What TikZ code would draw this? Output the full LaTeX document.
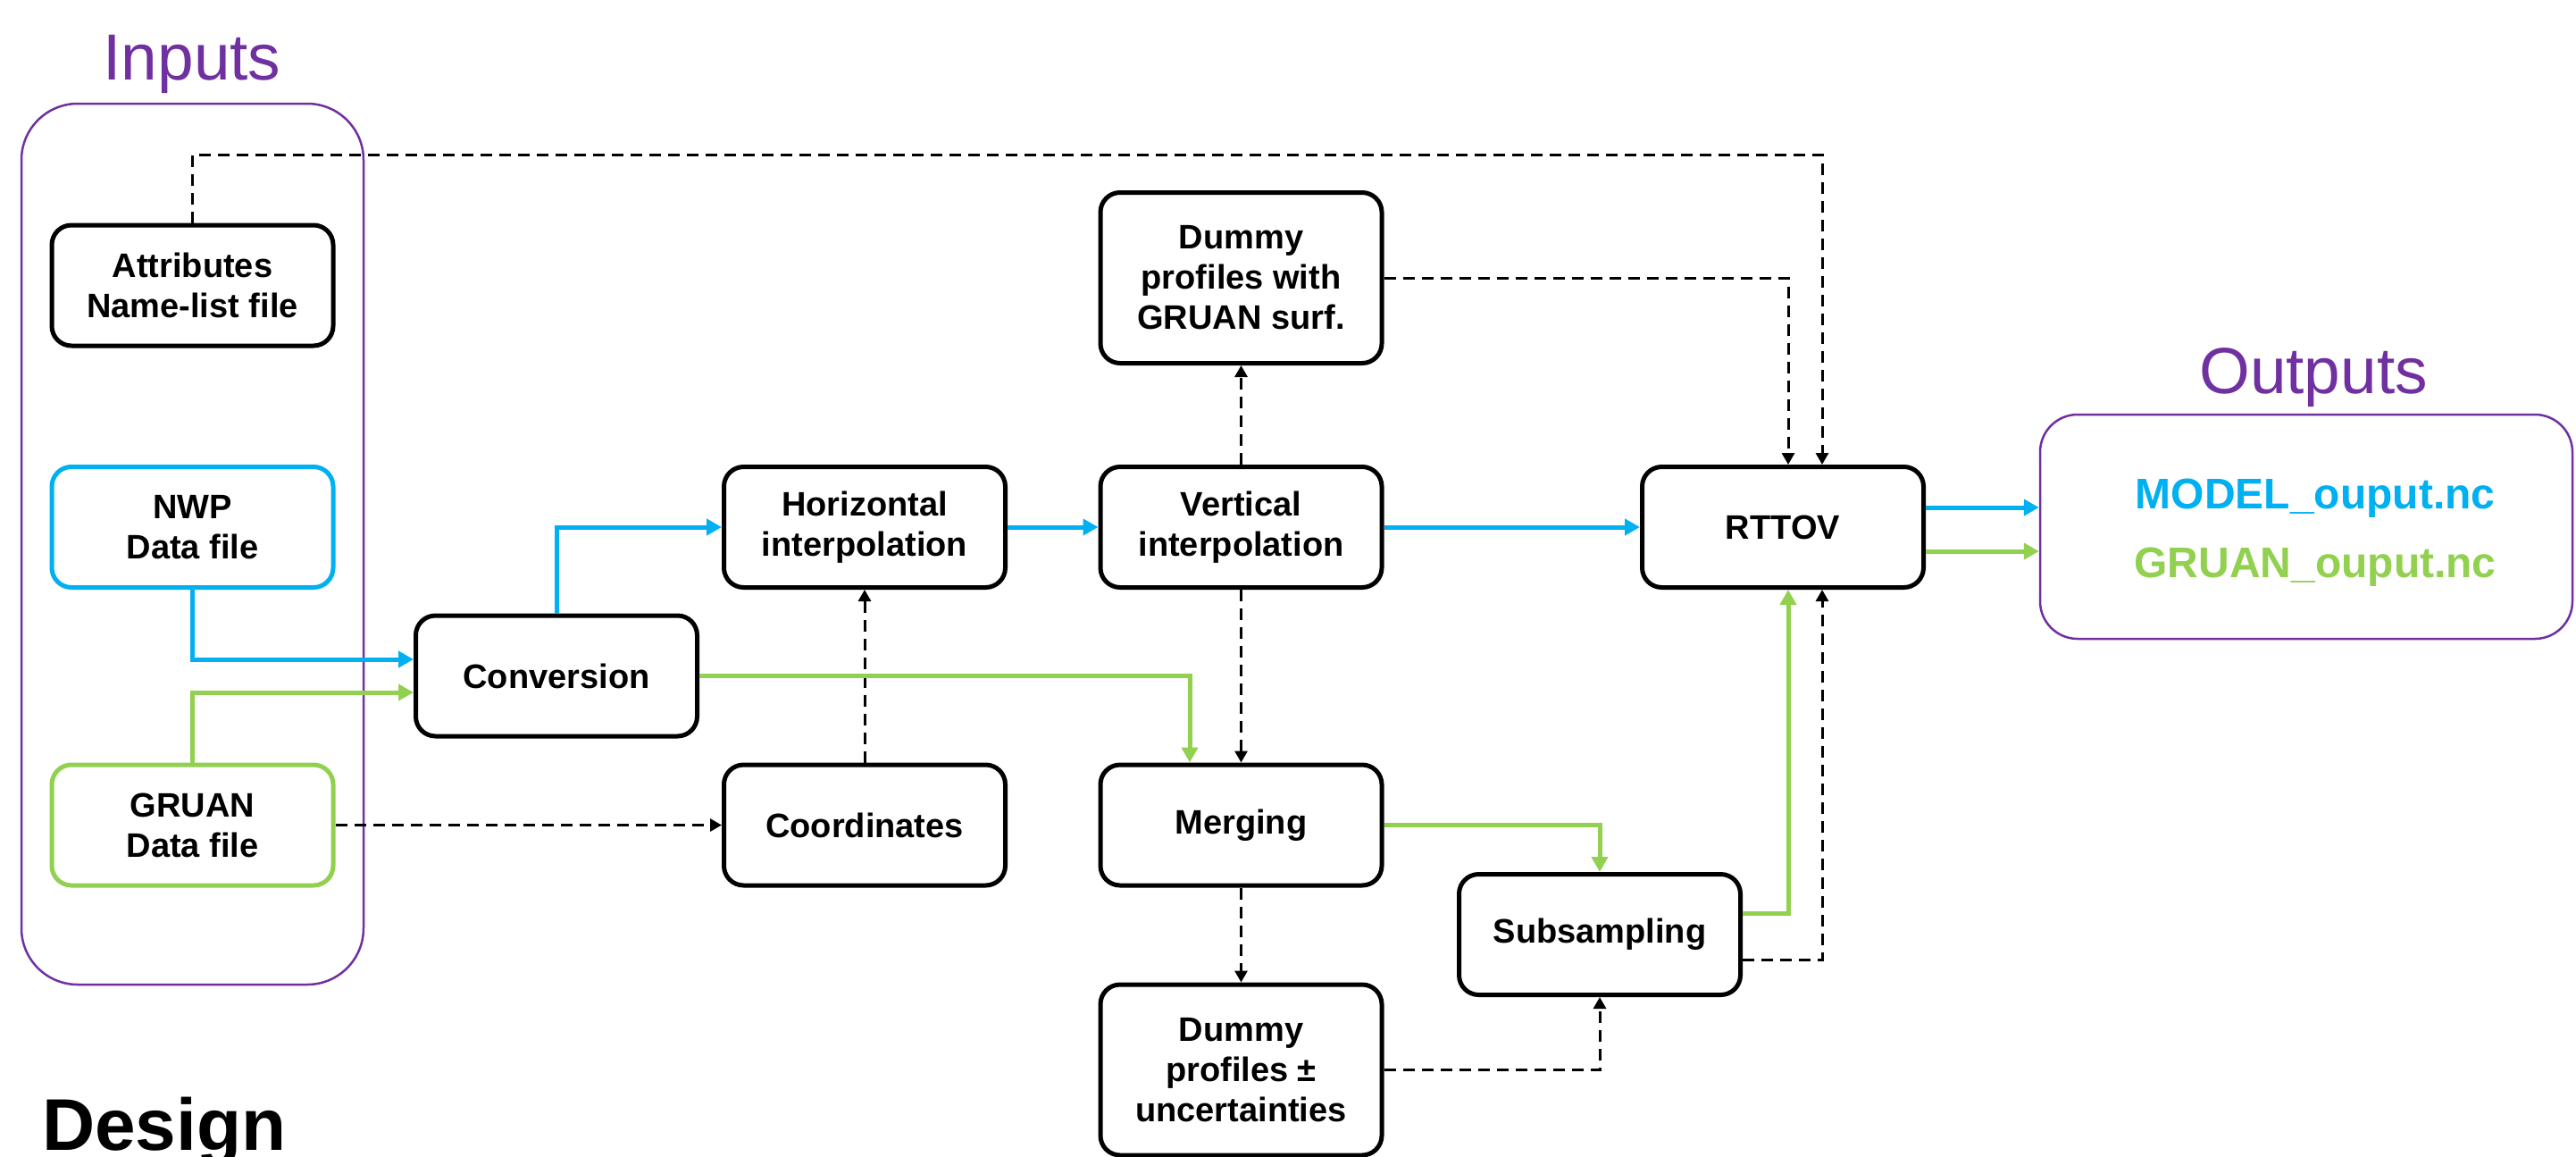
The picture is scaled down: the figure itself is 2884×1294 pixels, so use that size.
\documentclass[tikz,border=0pt]{standalone}
\usepackage{fontspec}
\setmainfont{Liberation Sans}
\usetikzlibrary{arrows.meta,calc}
\definecolor{cblue}{HTML}{00B0F0}
\definecolor{cgreen}{HTML}{92D050}
\definecolor{cpurple}{HTML}{7030A0}
\begin{document}
\begin{tikzpicture}[x=1pt,y=-1pt,
  box/.style={draw=black, line width=5pt, rounded corners=22pt, minimum width=315pt, minimum height=135pt, inner sep=0pt, align=center, fill=white, font=\bfseries\fontsize{38}{45}\selectfont},
  tallbox/.style={box, minimum height=191pt},
  bluebox/.style={box, draw=cblue},
  greenbox/.style={box, draw=cgreen},
  group/.style={draw=cpurple, line width=2.5pt, inner sep=0pt},
  title/.style={cpurple, anchor=base, inner sep=0pt, font=\fontsize{73}{80}\selectfont},
  bluearrow/.style={cblue, line width=5pt, -{Triangle[length=17pt,width=18pt]}},
  greenarrow/.style={cgreen, line width=5pt, -{Triangle[length=17pt,width=18pt]}},
  dasharrow/.style={black, line width=3pt, dash pattern=on 13pt off 8pt, -{Triangle[length=13pt,width=14pt]}},
  outtext/.style={anchor=base, inner sep=0pt, font=\bfseries\fontsize{48}{56}\selectfont}
]
\useasboundingbox (0,0) rectangle (2884,1294);

% groups and titles
\node[group, rounded corners=63pt, minimum width=383pt, minimum height=986pt] (inbox) at (215.5,609) {};
\node[group, rounded corners=42pt, minimum width=596pt, minimum height=251pt] (outbox) at (2582,589.5) {};
\node[title] (intitle) at (215,89) {Inputs};
\node[title] (outtitle) at (2590,440) {Outputs};
\node[anchor=base west, inner sep=0pt, font=\bfseries\fontsize{82}{90}\selectfont] (design) at (47,1287) {Design};

% input boxes
\node[box] (attr) at (215.5,319.5) {Attributes\\Name-list file};
\node[bluebox] (nwp) at (215.5,590) {NWP\\Data file};
\node[greenbox] (gruan) at (215.5,923.5) {GRUAN\\Data file};

% process boxes
\node[box] (conv) at (623,756.5) {Conversion};
\node[box] (horiz) at (968,590) {Horizontal\\interpolation};
\node[box] (coord) at (968,923.5) {Coordinates};
\node[box] (vert) at (1389.5,590) {Vertical\\interpolation};
\node[tallbox] (dgruan) at (1389.5,311) {Dummy\\profiles with\\GRUAN surf.};
\node[box] (merge) at (1389.5,923.5) {Merging};
\node[tallbox] (dunc) at (1389.5,1197.5) {Dummy\\profiles ±\\uncertainties};
\node[box] (subs) at (1791,1046) {Subsampling};
\node[box] (rttov) at (1996,590) {RTTOV};

% outputs
\node[outtext, text=cblue] (mout) at (2592,569) {MODEL\_ouput.nc};
\node[outtext, text=cgreen] (gout) at (2592,646) {GRUAN\_ouput.nc};

% helper coordinates
\coordinate (topy) at (0,173);
\coordinate (rin1) at ($(rttov.north)+(6,0)$);
\coordinate (rin2) at ($(rttov.north)+(44,0)$);
\coordinate (rbot1) at ($(rttov.south)+(6,0)$);
\coordinate (rbot2) at ($(rttov.south)+(44,0)$);
\coordinate (ro1) at ($(rttov.east)+(0,-22)$);
\coordinate (ro2) at ($(rttov.east)+(0,27)$);
\coordinate (cin1) at ($(conv.west)+(0,-18.5)$);
\coordinate (cin2) at ($(conv.west)+(0,18.5)$);
\coordinate (min) at ($(merge.north)+(-57.5,0)$);
\coordinate (so1) at ($(subs.east)+(0,-24)$);
\coordinate (so2) at ($(subs.east)+(0,28)$);

% connectors
\draw[dasharrow] (attr.north) -- (attr.north |- topy) -| (rin2);
\draw[dasharrow] (dgruan.east) -| (rin1);
\draw[bluearrow] (nwp.south) |- (cin1);
\draw[greenarrow] (gruan.north) |- (cin2);
\draw[dasharrow] (gruan.east) -- (coord.west);
\draw[dasharrow] (coord.north) -- (horiz.south);
\draw[bluearrow] (conv.north) |- (horiz.west);
\draw[bluearrow] (horiz.east) -- (vert.west);
\draw[bluearrow] (vert.east) -- (rttov.west);
\draw[greenarrow] (conv.east) -| (min);
\draw[dasharrow] (vert.north) -- (dgruan.south);
\draw[dasharrow] (vert.south) -- (merge.north);
\draw[dasharrow] (merge.south) -- (dunc.north);
\draw[greenarrow] (merge.east) -| (subs.north);
\draw[dasharrow] (dunc.east) -| (subs.south);
\draw[greenarrow] (so1) -| (rbot1);
\draw[dasharrow] (so2) -| (rbot2);
\draw[bluearrow] (ro1) -- (ro1 -| outbox.west);
\draw[greenarrow] (ro2) -- (ro2 -| outbox.west);
\end{tikzpicture}
\end{document}
